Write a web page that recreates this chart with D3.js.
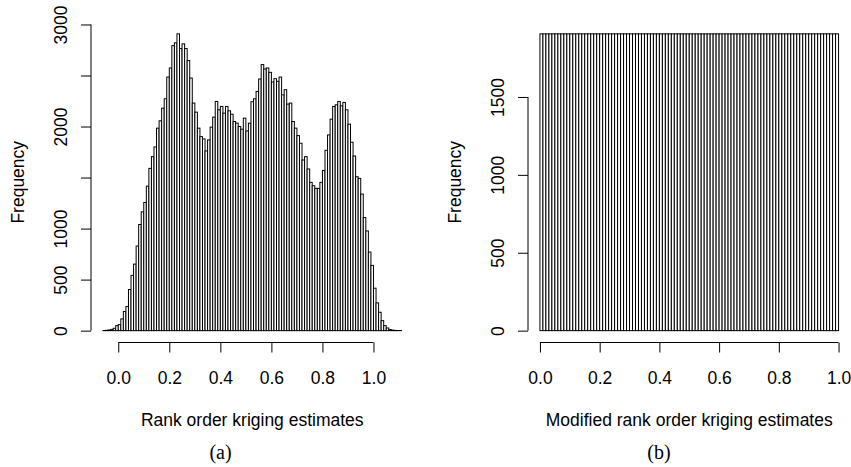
<!DOCTYPE html>
<html>
<head>
<meta charset="utf-8">
<script src="https://cdn.jsdelivr.net/npm/d3@7"></script>
<style>
  html, body { margin: 0; padding: 0; background: #fff; }
  svg { display: block; }
  text { font-family: "Liberation Sans", Arial, Helvetica, sans-serif; fill: #000; }
  .cap { font-family: "Liberation Serif", "Times New Roman", serif; }
</style>
</head>
<body>
<svg id="chart" width="851" height="467"></svg>
<script>
// ---- data -------------------------------------------------------------
// (a) rank order kriging estimates: breaks from -0.06 in steps of 0.01
const rankBreakStart = -0.06;
const rankBinWidth = 0.01;
const rankCounts = [
  1, 3, 6, 12, 23, 49,
  59, 115, 187, 236, 403, 541, 652, 829, 1040, 1164,
  1256, 1416, 1590, 1705, 1800, 1984, 2056, 2180, 2272, 2485,
  2574, 2793, 2820, 2908, 2764, 2810, 2764, 2646, 2475, 2230,
  2141, 1984, 1901, 1879, 1761, 1869, 1994, 2092, 2246, 2164,
  2197, 2131, 2197, 2154, 2121, 2049, 2033, 2000, 1974, 2082,
  1957, 2033, 2243, 2272, 2344, 2466, 2607, 2564, 2574, 2531,
  2436, 2469, 2443, 2485, 2311, 2361, 2220, 2230, 2049, 1984,
  1911, 1836, 1672, 1705, 1584, 1453, 1420, 1394, 1394, 1453,
  1570, 1767, 1918, 2072, 2197, 2213, 2246, 2203, 2236, 2164,
  2023, 1846, 1711, 1508, 1492, 1338, 1108, 977, 770, 639,
  416, 272, 180, 98, 49, 26, 10, 5, 2, 1, 1
];

// (b) modified rank order kriging estimates: breaks from 0 in steps of 0.01
const modBreakStart = 0;
const modBinWidth = 0.01;
const modCounts = [
  1905, 1905, 1905, 1905, 1905, 1905, 1905, 1905, 1905, 1905,
  1905, 1905, 1905, 1905, 1905, 1905, 1905, 1905, 1905, 1905,
  1905, 1905, 1905, 1905, 1905, 1905, 1905, 1905, 1905, 1905,
  1905, 1905, 1905, 1905, 1905, 1905, 1905, 1905, 1905, 1905,
  1905, 1905, 1905, 1905, 1905, 1905, 1905, 1905, 1905, 1905,
  1905, 1905, 1905, 1905, 1905, 1905, 1905, 1905, 1905, 1905,
  1905, 1905, 1905, 1905, 1905, 1905, 1905, 1905, 1905, 1905,
  1905, 1905, 1905, 1905, 1905, 1905, 1905, 1905, 1905, 1905,
  1905, 1905, 1905, 1905, 1905, 1905, 1905, 1905, 1905, 1905,
  1905, 1905, 1905, 1905, 1905, 1905, 1905, 1905, 1905, 1905
];

const xTickValues = [0, 0.2, 0.4, 0.6, 0.8, 1.0];
// tick marks, and the subset of ticks that carry a label
const rankYTicks = [0, 500, 1000, 1500, 2000, 2500, 3000];
const rankYLabels = [0, 500, 1000, 2000, 3000];
const modYTicks = [0, 500, 1000, 1500];
const modYLabels = [0, 500, 1000, 1500];

const yTitle = "Frequency";
const rankXTitle = "Rank order kriging estimates";
const modXTitle = "Modified rank order kriging estimates";
const rankCaption = "(a)";
const modCaption = "(b)";

// ---- layout -------------------------------------------------------------
const FS = 17.5;            // axis text size
const CAP_FS = 20;          // sub-figure caption size
const TICK = 10;            // tick length
const plotTop = 22, plotBottom = 342.5, plotWidth = 322.5;

const svg = d3.select("#chart");
svg.append("rect").attr("width", 851).attr("height", 467).attr("fill", "#fff");

function histogramPanel(opts) {
  const { x0, start, width, counts, yTicks, yLabels, xTitle, caption, captionX } = opts;
  const n = counts.length;
  const lo = start, hi = start + n * width;
  const padX = 0.04 * (hi - lo);
  const ymax = d3.max(counts);

  const xs = d3.scaleLinear().domain([lo - padX, hi + padX]).range([x0, x0 + plotWidth]);
  const ys = d3.scaleLinear().domain([-0.04 * ymax, 1.04 * ymax]).range([plotBottom, plotTop]);

  const g = svg.append("g");

  // bars
  const edges = d3.range(n + 1).map(i => start + i * width);
  g.append("g").selectAll("rect")
    .data(counts)
    .join("rect")
    .attr("x", (d, i) => xs(edges[i]))
    .attr("width", (d, i) => xs(edges[i + 1]) - xs(edges[i]))
    .attr("y", d => ys(d))
    .attr("height", d => ys(0) - ys(d))
    .attr("fill", "#fff")
    .attr("stroke", "#000")
    .attr("stroke-width", 1);

  // x axis: line spans first to last tick
  const xa = g.append("g")
    .attr("transform", `translate(0,${plotBottom})`)
    .call(d3.axisBottom(xs).tickValues(xTickValues).tickSize(TICK).tickSizeOuter(0)
      .tickFormat(d3.format(".1f")));
  xa.select(".domain").remove();
  xa.append("line")
    .attr("x1", xs(xTickValues[0])).attr("x2", xs(xTickValues[xTickValues.length - 1]))
    .attr("stroke", "#000");
  xa.selectAll(".tick line").attr("stroke", "#000");
  xa.selectAll(".tick text")
    .attr("y", 41).attr("dy", null)
    .style("font-size", FS + "px")
    .attr("fill", "#000");

  // y axis: line spans first to last tick, labels parallel to axis
  const ya = g.append("g")
    .attr("transform", `translate(${x0},0)`)
    .call(d3.axisLeft(ys).tickValues(yTicks).tickSize(TICK).tickSizeOuter(0)
      .tickFormat(d => yLabels.includes(d) ? d3.format("d")(d) : ""));
  ya.select(".domain").remove();
  ya.append("line")
    .attr("y1", ys(yTicks[0])).attr("y2", ys(yTicks[yTicks.length - 1]))
    .attr("stroke", "#000");
  ya.selectAll(".tick line").attr("stroke", "#000");
  ya.selectAll(".tick text")
    .attr("x", 0).attr("dy", null)
    .attr("text-anchor", "middle")
    .attr("transform", "translate(-24,0) rotate(-90)")
    .style("font-size", FS + "px")
    .attr("fill", "#000");

  // titles
  const cx = x0 + plotWidth / 2;
  g.append("text")
    .attr("x", cx).attr("y", 425.5)
    .attr("text-anchor", "middle")
    .style("font-size", FS + "px")
    .text(xTitle);

  g.append("text")
    .attr("transform", `translate(${x0 - 67},${(plotTop + plotBottom) / 2}) rotate(-90)`)
    .attr("text-anchor", "middle")
    .style("font-size", FS + "px")
    .text(yTitle);

  g.append("text")
    .attr("class", "cap")
    .attr("x", captionX).attr("y", 458.5)
    .attr("text-anchor", "middle")
    .style("font-size", CAP_FS + "px")
    .text(caption);
}

histogramPanel({
  x0: 91, start: rankBreakStart, width: rankBinWidth, counts: rankCounts,
  yTicks: rankYTicks, yLabels: rankYLabels,
  xTitle: rankXTitle, caption: rankCaption, captionX: 220.5
});

histogramPanel({
  x0: 528, start: modBreakStart, width: modBinWidth, counts: modCounts,
  yTicks: modYTicks, yLabels: modYLabels,
  xTitle: modXTitle, caption: modCaption, captionX: 659
});
</script>
</body>
</html>
